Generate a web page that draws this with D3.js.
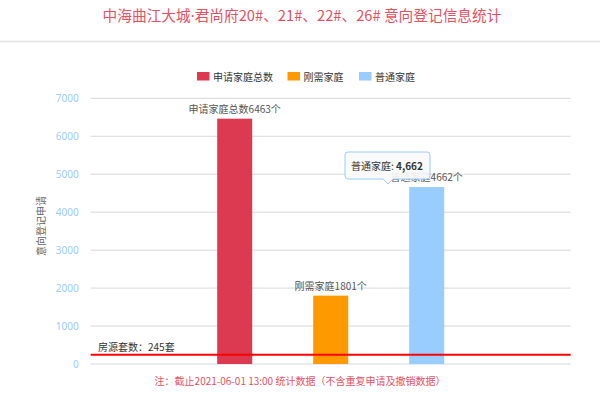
<!DOCTYPE html>
<html>
<head>
<meta charset="utf-8">
<script src="https://cdn.jsdelivr.net/npm/d3@7"></script>
<style>
  html, body { margin: 0; padding: 0; background: #fff; }
  svg text { font-family: "Noto Sans CJK SC", "Noto Sans", sans-serif; }
</style>
</head>
<body>
<div id="chart"></div>
<script>
// data
var categories = ['申请家庭总数', '刚需家庭', '普通家庭'];
var values = [6463, 1801, 4662];
var yTicks = [0, 1000, 2000, 3000, 4000, 5000, 6000, 7000];
var supplyValue = 245;
var supplyLabel = '房源套数：245套';
var titleParts = ['中海曲江大城', '·', '君尚府20#、21#、22#、26# 意向登记信息统计'];
var yTitle = '意向登记申请';
var noteText = '注：截止2021-06-01 13:00 统计数据（不含重复申请及撤销数据）';
var tipIndex = 2;

var colors = ['#db3a50', '#ff9900', '#99ccff'];

var width = 600, height = 399;
var plotLeft = 90.7, plotRight = 570.7, plotTop = 98.3, plotBottom = 364;

var svg = d3.select('#chart').append('svg')
    .attr('width', width)
    .attr('height', height);

// title + separator
var title = svg.append('text')
    .attr('x', 302)
    .attr('y', 21)
    .attr('text-anchor', 'middle')
    .style('font-size', '14.7px')
    .style('fill', '#e8505f');
titleParts.forEach(function(t, i) {
    var s = title.append('tspan').text(t);
    if (i == 1) s.style('font-family', '"Noto Sans", sans-serif');
});

svg.append('line')
    .attr('x1', 0).attr('x2', width)
    .attr('y1', 41.5).attr('y2', 41.5)
    .style('stroke', '#e3e3e3')
    .style('stroke-width', 1.5);

// scales
var xScale = d3.scaleBand()
    .domain(categories)
    .range([plotLeft, plotRight])
    .paddingInner(0.635)
    .paddingOuter(1.3175);

var yScale = d3.scaleLinear()
    .domain([0, 7000])
    .range([plotBottom, plotTop]);

// grid
svg.append('g')
    .selectAll('line')
    .data(yTicks.slice(1))
    .join('line')
    .attr('x1', plotLeft).attr('x2', plotRight)
    .attr('y1', function(d) { return yScale(d); })
    .attr('y2', function(d) { return yScale(d); })
    .style('stroke', '#d8d8d8')
    .style('stroke-width', 1);

// y axis labels
var yAxis = svg.append('g')
    .attr('transform', `translate(${plotLeft - 12},0)`)
    .call(d3.axisLeft(yScale).tickValues(yTicks).tickFormat(d3.format('d')).tickSize(0).tickPadding(0));
yAxis.select('.domain').remove();
yAxis.selectAll('text')
    .style('font-size', '10px')
    .style('fill', '#99ccff')
    .style('font-family', '"Noto Sans", sans-serif');

svg.append('text')
    .attr('transform', `translate(45,226) rotate(-90)`)
    .attr('text-anchor', 'middle')
    .style('font-size', '10px')
    .style('fill', '#666')
    .text(yTitle);

// baseline
svg.append('line')
    .attr('x1', plotLeft).attr('x2', plotRight)
    .attr('y1', yScale(0)).attr('y2', yScale(0))
    .style('stroke', '#ccd6eb')
    .style('stroke-width', 1);

// bars
svg.append('g')
    .selectAll('rect')
    .data(values)
    .join('rect')
    .attr('x', function(d, i) { return xScale(categories[i]); })
    .attr('y', function(d) { return yScale(d); })
    .attr('width', xScale.bandwidth())
    .attr('height', function(d) { return yScale(0) - yScale(d); })
    .style('fill', function(d, i) { return colors[i]; });

// bar labels
svg.append('g')
    .selectAll('text')
    .data(values)
    .join('text')
    .attr('x', function(d, i) { return xScale(categories[i]) + xScale.bandwidth() / 2; })
    .attr('y', function(d) { return yScale(d) - 6; })
    .attr('text-anchor', 'middle')
    .style('font-size', '10px')
    .style('fill', '#555')
    .text(function(d, i) { return categories[i] + d + '个'; });

// supply line
svg.append('line')
    .attr('x1', plotLeft).attr('x2', plotRight)
    .attr('y1', yScale(supplyValue)).attr('y2', yScale(supplyValue))
    .style('stroke', '#ff0000')
    .style('stroke-width', 2);

svg.append('text')
    .attr('x', 98)
    .attr('y', yScale(supplyValue) - 4)
    .style('font-size', '10px')
    .style('fill', '#333')
    .text(supplyLabel);

// legend
var legendX = [197, 287.5, 359];
var legend = svg.append('g').selectAll('g')
    .data(categories)
    .join('g')
    .attr('transform', function(d, i) { return `translate(${legendX[i]},72)`; });

legend.append('rect')
    .attr('width', 12.5)
    .attr('height', 8.5)
    .style('fill', function(d, i) { return colors[i]; });

legend.append('text')
    .attr('x', 16)
    .attr('y', 8.5)
    .style('font-size', '10px')
    .style('fill', '#333')
    .text(function(d) { return d; });

// note
svg.append('text')
    .attr('x', 300)
    .attr('y', 385)
    .attr('text-anchor', 'middle')
    .style('font-size', '10px')
    .style('fill', '#e8505f')
    .text(noteText);

// tooltip
var tipX = 345, tipY = 152, tipW = 85, tipH = 27;
var px = 388;
var tip = svg.append('g');
tip.append('path')
    .attr('d', `M${tipX + 3},${tipY} H${tipX + tipW - 3} Q${tipX + tipW},${tipY} ${tipX + tipW},${tipY + 3}
      V${tipY + tipH - 3} Q${tipX + tipW},${tipY + tipH} ${tipX + tipW - 3},${tipY + tipH}
      H${px + 5} L${px},${tipY + tipH + 5} L${px - 5},${tipY + tipH}
      H${tipX + 3} Q${tipX},${tipY + tipH} ${tipX},${tipY + tipH - 3}
      V${tipY + 3} Q${tipX},${tipY} ${tipX + 3},${tipY} Z`)
    .style('fill', 'rgba(250,250,250,0.92)')
    .style('stroke', '#99ccff')
    .style('stroke-width', 1);

var tipText = tip.append('text')
    .attr('x', tipX + 6)
    .attr('y', tipY + 17.5)
    .style('font-size', '10px')
    .style('fill', '#333');
tipText.append('tspan').text(categories[tipIndex] + ': ');
tipText.append('tspan')
    .style('font-weight', 'bold')
    .text(d3.format(',')(values[tipIndex]));
</script>
</body>
</html>
